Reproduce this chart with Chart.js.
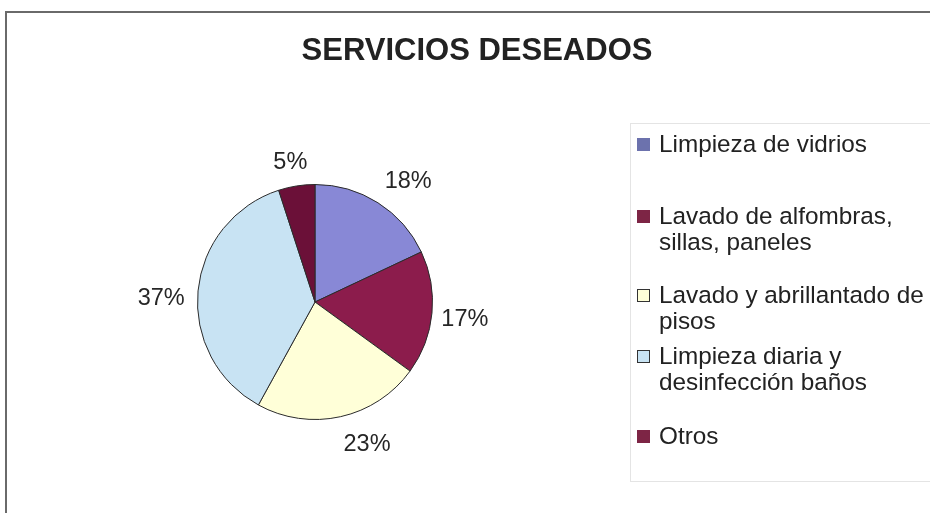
<!DOCTYPE html>
<html>
<head>
<meta charset="utf-8">
<script src="https://cdn.jsdelivr.net/npm/chart.js@4/dist/chart.umd.min.js"></script>
<style>
  html, body { margin: 0; padding: 0; background: #fff; }
  #wrap { position: relative; width: 930px; height: 513px; overflow: hidden; font-family: "Liberation Sans", Arial, sans-serif; }
  #frame { position: absolute; left: 5px; top: 11px; width: 940px; height: 520px; border-top: 2px solid #6a6a6a; border-left: 2px solid #6a6a6a; box-sizing: border-box; }
  #legend { position: absolute; left: 630px; top: 123px; width: 320px; height: 359px; border: 1px solid #e4e4e4; box-sizing: border-box; }
  .item { position: absolute; left: 6px; font-size: 24.3px; line-height: 26px; color: #222; padding-left: 22px; white-space: nowrap; }
  .box { position: absolute; left: 0; top: 7px; width: 13px; height: 13px; box-sizing: border-box; border: 1px solid #333; }
  canvas { position: absolute; left: 0; top: 0; }
</style>
</head>
<body>
<div id="wrap">
  <div id="frame"></div>
  <canvas id="c" width="930" height="513"></canvas>
  <div id="legend"></div>
</div>
<script>
// Service categories (legend lines split where the text wraps)
const categories = [
  ["Limpieza de vidrios"],
  ["Lavado de alfombras,", "sillas, paneles"],
  ["Lavado y abrillantado de", "pisos"],
  ["Limpieza diaria y", "desinfección baños"],
  ["Otros"]
];
// Share of respondents per service, in percent
const shares = [18, 17, 23, 37, 5];
const sliceColors = ["#8888d6", "#8c1c4c", "#ffffd8", "#c8e3f3", "#6b1038"];
const legendColors = ["#6c72ad", "#7d2545", "#ffffd8", "#c8e3f3", "#7d2545"];
const legendTops = [7, 79, 158, 219, 299];
// small nudges for the percentage labels around the pie
const labelNudge = [[12, 7], [-1, 3], [19, -5], [-3, 11], [-1, 10]];

const pctLabels = {
  id: "pctLabels",
  afterDatasetsDraw(chart) {
    const ctx = chart.ctx;
    const meta = chart.getDatasetMeta(0);
    ctx.save();
    ctx.font = '23.5px "Liberation Sans", Arial, sans-serif';
    ctx.fillStyle = "#262626";
    ctx.textAlign = "center";
    ctx.textBaseline = "middle";
    meta.data.forEach((arc, i) => {
      const p = arc.getProps(["x", "y", "startAngle", "endAngle", "outerRadius"], true);
      const a = (p.startAngle + p.endAngle) / 2;
      const r = p.outerRadius + 34;
      ctx.fillText(shares[i] + "%", p.x + Math.cos(a) * r + labelNudge[i][0], p.y + Math.sin(a) * r + labelNudge[i][1]);
    });
    ctx.restore();
  }
};

const titlePlugin = {
  id: "titleText",
  afterDraw(chart) {
    const ctx = chart.ctx;
    ctx.save();
    ctx.font = 'bold 31px "Liberation Sans", Arial, sans-serif';
    ctx.fillStyle = "#222";
    ctx.textAlign = "center";
    ctx.textBaseline = "middle";
    ctx.fillText("SERVICIOS DESEADOS", 477, 51);
    ctx.restore();
  }
};

new Chart(document.getElementById("c"), {
  type: "pie",
  data: {
    labels: categories.map(c => c.join(" ")),
    datasets: [{
      data: shares,
      backgroundColor: sliceColors,
      borderColor: "#2b2b2b",
      borderWidth: 1
    }]
  },
  options: {
    responsive: false,
    devicePixelRatio: 1,
    animation: false,
    layout: { padding: { left: 197, right: 497, top: 184, bottom: 93 } },
    plugins: { legend: { display: false }, tooltip: { enabled: false }, title: { display: false } }
  },
  plugins: [pctLabels, titlePlugin]
});

// Legend built from the same category list
const legend = document.getElementById("legend");
categories.forEach((lines, i) => {
  const item = document.createElement("div");
  item.className = "item";
  item.style.top = legendTops[i] + "px";
  item.innerHTML = lines.join("<br>");
  const box = document.createElement("span");
  box.className = "box";
  box.style.background = legendColors[i];
  if (i === 0 || i === 1 || i === 4) box.style.borderColor = legendColors[i];
  item.appendChild(box);
  legend.appendChild(item);
});
</script>
</body>
</html>
